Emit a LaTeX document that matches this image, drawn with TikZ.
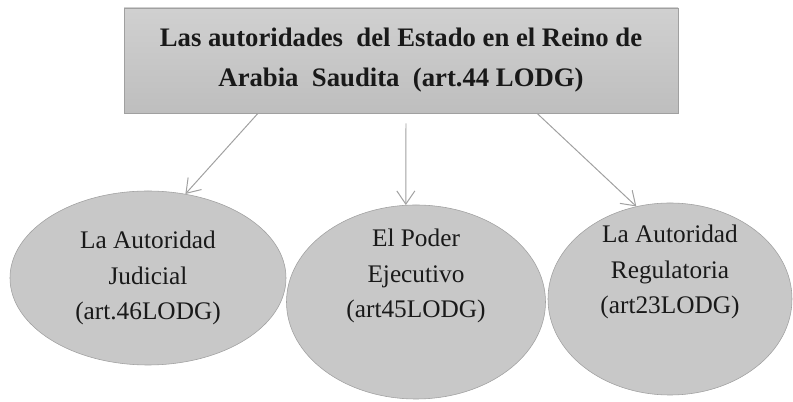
\documentclass[tikz,border=0pt]{standalone}
\usepackage{fontspec}
\setmainfont{Liberation Serif}
\usepackage{tikz}
\usetikzlibrary{arrows, arrows.meta, shapes.geometric, positioning}

\definecolor{boxgray}{RGB}{200,200,200}
\definecolor{linegray}{RGB}{160,160,160}
\definecolor{inkgray}{RGB}{25,25,25}

\begin{document}
\begin{tikzpicture}[scale = 1.0,
	titlebox/.style = {rectangle, draw=linegray, top color=boxgray!85, bottom color=boxgray!95!black, text=inkgray,
		minimum width=13.85cm, minimum height=2.625cm, align=center,
		font=\fontsize{19}{28.5}\selectfont\bfseries},
	oval/.style = {ellipse, draw=linegray, fill=boxgray, inner sep=0pt},
	every label/.append style = {align=center, text=inkgray, font=\fontsize{18}{25}\selectfont}]
	\useasboundingbox (0,0) rectangle (19.825,10.05);

			\node[titlebox] (top) at (10.025,8.5375) {Las autoridades\ \ del Estado en el Reino de\\Arabia\ \ Saudita\ \ (art.44 LODG)};

			\node[oval, minimum width=6.9cm, minimum height=4.35cm,
				label={[yshift=0cm]center:La Autoridad\\Judicial\\(art.46LODG)}] (jud) at (3.7,3.1) {};
			\node[oval, minimum width=6.475cm, minimum height=4.85cm,
				label={[yshift=0.65cm]center:El Poder\\Ejecutivo\\(art45LODG)}] (eje) at (10.4,2.5) {};
			\node[oval, minimum width=6.1cm, minimum height=4.8cm,
				label={[yshift=0.675cm]center:La Autoridad\\Regulatoria\\(art23LODG)}] (reg) at (16.75,2.575) {};

			\path[linegray, line width=0.7pt, -{Straight Barb[length=3.3mm, width=4.5mm]}]
				([xshift=-3.575cm]top.south) edge (jud.66)
				([xshift=0.125cm, yshift=-0.25cm]top.south) edge (eje.96)
				([xshift=3.4cm]top.south) edge (reg.110);
		\end{tikzpicture}
\end{document}
